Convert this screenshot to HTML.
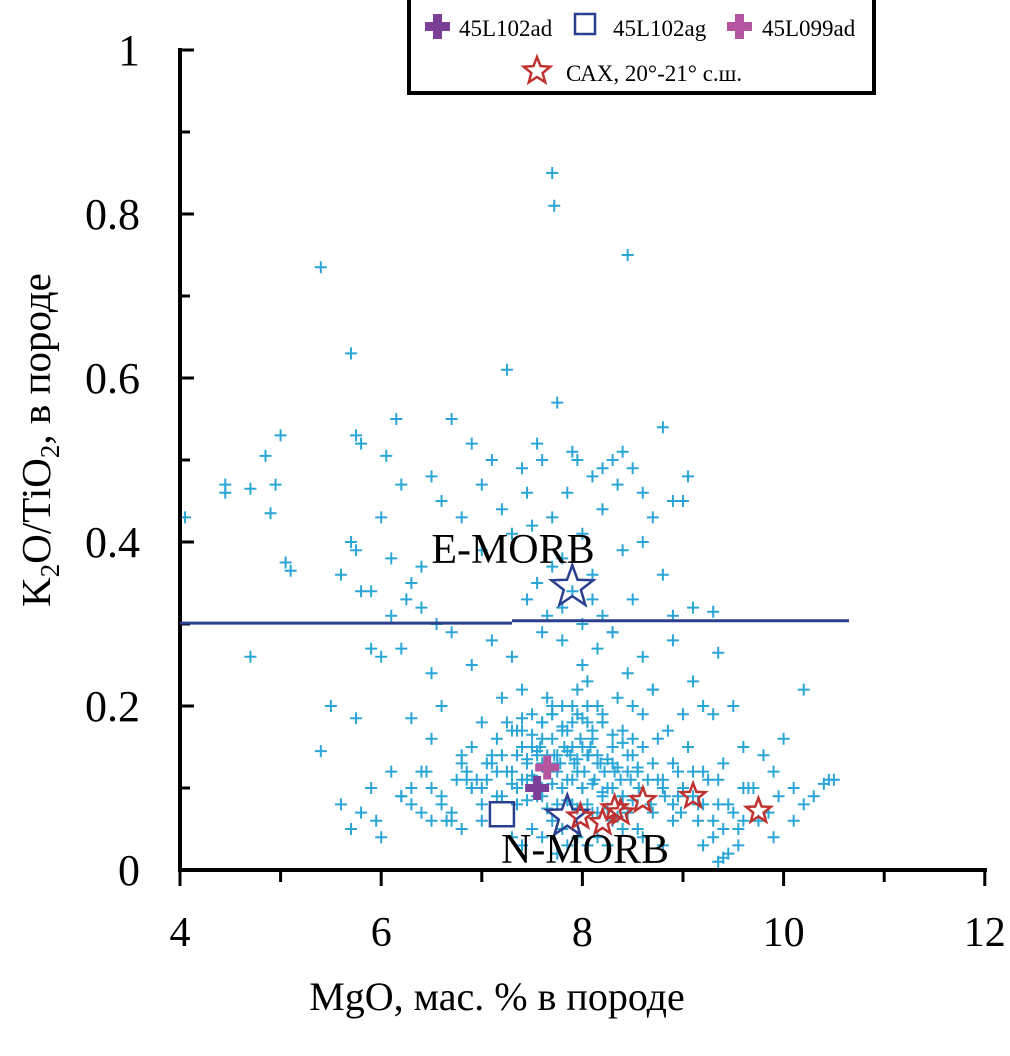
<!DOCTYPE html>
<html><head><meta charset="utf-8"><style>
body{margin:0;background:#fff}
svg text{font-family:"Liberation Serif",serif;fill:#000}
</style></head><body>
<svg id="chart" width="1010" height="1051" viewBox="0 0 1010 1051" xmlns="http://www.w3.org/2000/svg">
<g id="pts"></g>
<g id="axes"></g>
<g id="marks"></g>
<text x="513" y="563" font-size="42" text-anchor="middle">E-MORB</text>
<text x="585" y="863" font-size="42" text-anchor="middle">N-MORB</text>
<text transform="translate(50,440) rotate(-90)" font-size="41" text-anchor="middle">K<tspan font-size="27" dy="9">2</tspan><tspan dy="-9">O/TiO</tspan><tspan font-size="27" dy="9">2</tspan><tspan dy="-9">, в породе</tspan></text>
<text x="497" y="1010" font-size="40" text-anchor="middle">MgO, мас. % в породе</text>
<g>
<rect x="409" y="-4" width="465" height="97" fill="#fff" stroke="#000" stroke-width="4"/>
<g>
<path d="M425 22h8v-8h9v8h8v9h-8v8h-9v-8h-8z" fill="#7b3f98"/>
<text x="459" y="36" font-size="23">45L102ad</text></g>
<g>
<rect x="575" y="14" width="20" height="20" fill="none" stroke="#2b3f8f" stroke-width="2.5"/>
<text x="613" y="36" font-size="23">45L102ag</text></g>
<g>
<path d="M727 22h8v-8h9v8h8v9h-8v8h-9v-8h-8z" fill="#b5559f"/>
<text x="762" y="36" font-size="23">45L099ad</text></g>
<g>
<path id="lgstar" d="" fill="#fff" stroke="#c0322f" stroke-width="2.5"/>
<text x="566" y="81" font-size="23">САХ, 20°-21° с.ш.</text></g>
</g>
</svg>
<script>
const mgo=[7.7,7.72,8.45,5.4,5.7,7.25,7.75,6.15,8.8,5.0,4.05,4.45,4.45,4.7,4.85,4.9,4.95,5.05,5.1,4.7,5.4,5.75,6.3,10.2,9.05,9.3,9.35,10.0,10.5,10.4,9.4,9.35,
5.75,5.8,6.05,6.2,6.5,6.7,6.9,7.0,7.1,7.4,7.45,7.55,7.6,7.85,7.9,7.95,8.1,8.2,8.3,8.35,8.4,8.5,8.6,8.7,8.9,9.0,
5.6,5.7,5.8,6.0,6.1,6.3,6.4,6.6,6.8,7.0,7.2,7.3,7.5,7.7,7.8,8.0,8.1,8.2,8.4,8.5,8.6,8.8,8.9,9.1,
5.5,5.9,6.0,6.2,6.5,6.7,6.9,7.1,7.3,7.4,7.6,7.8,8.0,8.15,8.3,8.45,8.6,8.7,8.9,9.1,9.3,9.5,
5.6,5.8,6.1,6.3,6.5,6.6,6.8,7.0,7.2,7.35,7.5,7.65,7.8,7.95,8.05,8.2,8.35,8.5,8.7,8.85,9.0,9.2,9.4,9.6,9.8,
5.7,5.9,6.2,6.4,6.6,6.75,6.9,7.05,7.15,7.25,7.4,7.5,7.6,7.7,7.75,7.8,7.9,8.0,8.05,8.1,8.2,8.3,8.4,8.5,8.6,8.75,8.9,9.05,9.2,9.35,9.6,9.9,10.1,10.3,
5.95,6.3,6.5,6.7,6.85,7.0,7.1,7.2,7.3,7.4,7.45,7.55,7.6,7.7,7.75,7.82,7.88,7.92,7.98,8.02,8.08,8.15,8.22,8.3,8.38,8.45,8.55,8.65,8.8,8.95,9.1,9.25,9.45,9.7,9.95,10.2,10.45,
6.0,6.4,6.6,6.9,7.05,7.15,7.25,7.35,7.45,7.52,7.58,7.65,7.72,7.78,7.85,7.9,7.95,8.0,8.06,8.12,8.18,8.25,8.32,8.4,8.48,8.56,8.68,8.82,8.98,9.15,9.3,9.5,9.75,
6.5,6.8,7.0,7.3,7.5,7.6,7.7,7.8,7.9,8.0,8.1,8.2,8.3,8.4,8.55,8.7,8.9,9.2,9.4,9.6,9.9,
7.4,7.6,7.75,7.85,7.95,8.05,8.15,8.25,8.4,8.6,8.8,9.3,9.45,9.55,10.1,
5.75,5.9,6.1,6.25,6.4,6.55,7.45,7.55,7.65,7.7,7.8,7.9,8.0,8.1,8.2,8.3,7.6,7.7,7.85,7.95,8.05,8.15,
7.3,7.4,7.5,7.6,7.7,7.8,7.9,8.0,8.1,8.2,8.3,8.4,8.5,8.6,7.35,7.45,7.55,7.65,7.75,7.85,7.95,8.05,8.15,8.25,8.35,8.45,8.55,
7.3,7.4,7.5,7.6,7.7,7.8,7.9,8.0,8.1,8.2,8.3,8.4,8.5,7.35,7.45,7.55,7.65,7.75,7.85,7.95,8.05,8.15,8.25,8.35,8.45,
6.8,6.9,7.0,7.1,7.2,8.7,8.8,8.9,9.0,9.1,9.2,6.7,6.95,7.15,8.75,8.95,9.15,9.35,9.55,9.65,9.85,6.2,6.45,6.65,6.85];
const ratio=[0.85,0.81,0.75,0.735,0.63,0.61,0.57,0.55,0.54,0.53,0.43,0.47,0.46,0.465,0.505,0.435,0.47,0.375,0.365,0.26,0.145,0.185,0.185,0.22,0.48,0.315,0.265,0.16,0.11,0.105,0.015,0.01,
0.53,0.52,0.505,0.47,0.48,0.55,0.52,0.47,0.5,0.49,0.46,0.52,0.5,0.46,0.51,0.5,0.48,0.49,0.5,0.47,0.51,0.49,0.46,0.43,0.45,0.45,
0.36,0.4,0.34,0.43,0.38,0.35,0.37,0.45,0.43,0.39,0.44,0.41,0.42,0.43,0.38,0.41,0.36,0.44,0.39,0.33,0.4,0.36,0.31,0.32,
0.2,0.27,0.26,0.27,0.24,0.29,0.25,0.28,0.26,0.22,0.29,0.28,0.25,0.27,0.29,0.24,0.26,0.22,0.28,0.23,0.19,0.2,
0.08,0.07,0.12,0.1,0.16,0.2,0.14,0.18,0.21,0.17,0.19,0.21,0.2,0.22,0.23,0.19,0.21,0.2,0.22,0.17,0.19,0.2,0.13,0.15,0.14,
0.05,0.1,0.09,0.12,0.08,0.11,0.15,0.13,0.16,0.18,0.17,0.15,0.16,0.19,0.14,0.17,0.18,0.15,0.2,0.16,0.18,0.15,0.17,0.14,0.19,0.16,0.13,0.15,0.12,0.11,0.1,0.12,0.1,0.09,
0.06,0.08,0.1,0.07,0.12,0.1,0.13,0.14,0.12,0.15,0.11,0.14,0.13,0.16,0.12,0.15,0.14,0.13,0.16,0.12,0.15,0.14,0.12,0.13,0.11,0.14,0.12,0.11,0.1,0.12,0.09,0.11,0.08,0.1,0.09,0.08,0.11,
0.04,0.07,0.09,0.1,0.11,0.09,0.12,0.1,0.13,0.11,0.15,0.12,0.14,0.13,0.11,0.15,0.12,0.1,0.14,0.11,0.13,0.1,0.12,0.09,0.11,0.1,0.08,0.09,0.07,0.08,0.06,0.07,0.06,
0.06,0.05,0.06,0.04,0.05,0.09,0.06,0.05,0.08,0.1,0.07,0.09,0.06,0.08,0.05,0.07,0.06,0.03,0.05,0.06,0.04,
0.03,0.04,0.02,0.03,0.04,0.03,0.04,0.03,0.05,0.04,0.03,0.04,0.02,0.03,0.06,
0.39,0.34,0.31,0.33,0.32,0.3,0.33,0.35,0.31,0.37,0.32,0.34,0.3,0.33,0.31,0.29,0.18,0.2,0.17,0.19,0.18,0.2,
0.17,0.185,0.165,0.18,0.19,0.175,0.2,0.185,0.17,0.18,0.165,0.155,0.16,0.15,0.14,0.135,0.145,0.14,0.13,0.145,0.135,0.14,0.13,0.135,0.125,0.12,0.125,
0.105,0.11,0.115,0.1,0.105,0.1,0.11,0.1,0.105,0.095,0.1,0.09,0.085,0.08,0.085,0.09,0.075,0.08,0.085,0.075,0.08,0.07,0.075,0.065,0.07,
0.13,0.1,0.08,0.14,0.09,0.13,0.11,0.08,0.1,0.12,0.08,0.06,0.11,0.12,0.11,0.09,0.06,0.08,0.05,0.1,0.07,0.09,0.12,0.06,0.11];
const redStarX=[7.98,8.2,8.32,8.6,9.1,9.75,8.38];
const redStarY=[0.065,0.058,0.075,0.085,0.09,0.072,0.07];
const morbX=[7.9,7.85], morbY=[0.345,0.065];
const xTicks=[4,6,8,10,12], yTicks=[0,0.2,0.4,0.6,0.8,1];
const yTickLabels=["0","0.2","0.4","0.6","0.8","1"];
const sx=v=>180+(v-4)*100.6, sy=v=>870-v*820;
const NS="http://www.w3.org/2000/svg";
function mk(tag,attrs,parent){const e=document.createElementNS(NS,tag);for(const k in attrs)e.setAttribute(k,attrs[k]);parent.appendChild(e);return e;}
function starPath(cx,cy,R,r){let d="";for(let i=0;i<10;i++){const a=-Math.PI/2+i*Math.PI/5,rr=i%2?r:R;d+=(i?"L":"M")+(cx+rr*Math.cos(a)).toFixed(1)+" "+(cy+rr*Math.sin(a)).toFixed(1);}return d+"Z";}
document.getElementById('lgstar').setAttribute('d',starPath(537,71,14,6));
const pts=document.getElementById('pts');
for(let i=0;i<mgo.length;i++){const x=sx(mgo[i]),y=sy(ratio[i]);
const p=mk('path',{d:`M${x-6} ${y}h12M${x} ${y-6}v12`,stroke:'#2aa6d6','stroke-width':2},pts);

}
const ax=document.getElementById('axes');
const l1=mk('path',{d:`M180 48V872M178 870H987`,stroke:'#000','stroke-width':4,fill:'none'},ax);


for(let i=0;i<yTicks.length;i++){const y=sy(yTicks[i]);
mk('path',{d:`M180 ${y}H194`,stroke:'#000','stroke-width':3},ax);
if(i<yTicks.length-1)mk('path',{d:`M180 ${sy(yTicks[i]+0.1)}H190`,stroke:'#000','stroke-width':3},ax);
const t=mk('text',{x:140,y:y+15,'font-size':44,'text-anchor':'end'},ax);t.textContent=yTickLabels[i];

}
for(let i=0;i<xTicks.length;i++){const x=sx(xTicks[i]);
mk('path',{d:`M${x} 870V886`,stroke:'#000','stroke-width':3},ax);
if(i<xTicks.length-1)mk('path',{d:`M${sx(xTicks[i]+1)} 870V882`,stroke:'#000','stroke-width':3},ax);
const t=mk('text',{x:x,y:946,'font-size':42,'text-anchor':'middle'},ax);t.textContent=xTicks[i];

}
const mk2=document.getElementById('marks');
const hl=mk('path',{d:`M${sx(4)} ${sy(0.301)}H${sx(7.3)}M${sx(7.3)} ${sy(0.304)}H${sx(10.65)}`,stroke:'#2b3f8f','stroke-width':3},mk2);


for(let i=0;i<morbX.length;i++){const s=mk('path',{d:starPath(sx(morbX[i]),sy(morbY[i]),22,9),fill:'none',stroke:'#2b3f8f','stroke-width':2.5},mk2);

}
for(let i=0;i<redStarX.length;i++){const s=mk('path',{d:starPath(sx(redStarX[i]),sy(redStarY[i]),13,5.5),fill:'none',stroke:'#c0322f','stroke-width':2.5},mk2);

}
const sq=mk('rect',{x:sx(7.2)-12,y:sy(0.068)-12,width:24,height:24,fill:'none',stroke:'#2b3f8f','stroke-width':2.5},mk2);


function cross(v,r,fill,name){const x=sx(v),y=sy(r);const c=mk('path',{d:`M${x-12} ${y-4}h8v-8h8v8h8v8h-8v8h-8v-8h-8z`,fill:fill},mk2);

}
cross(7.55,0.10,'#7b3f98','sample-45L102ad');
cross(7.65,0.125,'#b5559f','sample-45L099ad');
</script>
</body></html>
